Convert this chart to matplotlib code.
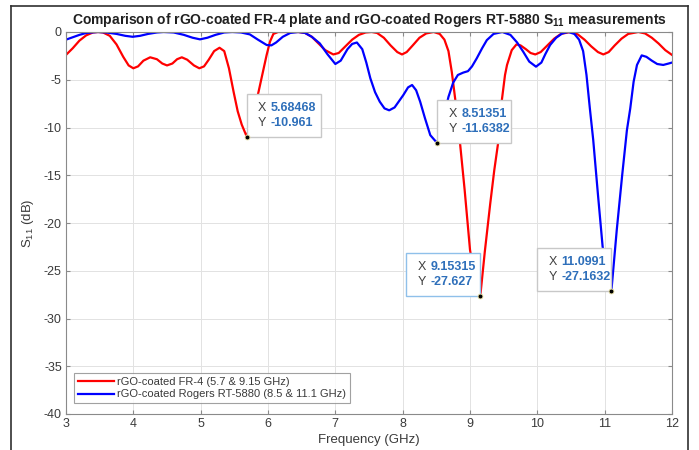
import numpy as np
import matplotlib
matplotlib.use("Agg")
import matplotlib.pyplot as plt
from matplotlib.patches import Rectangle
from matplotlib.lines import Line2D
from matplotlib.transforms import Affine2D

plt.rcParams['font.family'] = ['Liberation Sans', 'DejaVu Sans']
plt.rcParams['mathtext.fontset'] = 'custom'
plt.rcParams['mathtext.rm'] = 'Liberation Sans'
plt.rcParams['mathtext.bf'] = 'Liberation Sans:bold'
plt.rcParams['axes.unicode_minus'] = False

# rGO-coated FR-4
fr4_freq = [3.0, 3.1, 3.2, 3.3, 3.4, 3.48, 3.55, 3.65, 3.75, 3.85, 3.93, 4.0, 4.07, 4.15,
            4.25, 4.35, 4.43, 4.5, 4.58, 4.65, 4.72, 4.8, 4.9, 4.98, 5.05, 5.12, 5.2,
            5.28, 5.35, 5.42, 5.49, 5.55, 5.61, 5.68468, 5.75, 5.8, 5.86, 5.93, 5.98,
            6.03, 6.08, 6.15, 6.3, 6.45, 6.55, 6.65, 6.75, 6.85, 6.97, 7.05, 7.15, 7.25,
            7.35, 7.45, 7.54, 7.62, 7.72, 7.82, 7.92, 7.99, 8.06, 8.15, 8.25, 8.35, 8.46,
            8.55, 8.62, 8.68, 8.73, 8.78, 8.85, 8.92, 9.0, 9.07, 9.15315, 9.22, 9.3,
            9.36, 9.42, 9.47, 9.52, 9.55, 9.62, 9.69, 9.75, 9.83, 9.9, 9.97, 10.05,
            10.15, 10.25, 10.35, 10.49, 10.6, 10.7, 10.8, 10.9, 10.98, 11.06, 11.15,
            11.25, 11.35, 11.5, 11.6, 11.7, 11.8, 11.9, 12.0]
fr4_s11 = [-2.4, -1.7, -0.9, -0.35, -0.05, 0.0, -0.05, -0.4, -1.3, -2.6, -3.5, -3.8, -3.6, -3.0,
           -2.65, -2.85, -3.3, -3.5, -3.3, -2.85, -2.65, -2.9, -3.5, -3.8, -3.6, -2.9, -2.0,
           -1.65, -2.0, -3.8, -6.3, -8.3, -9.7, -10.961, -9.3, -8.0, -6.25, -4.0, -2.4,
           -1.0, -0.2, 0.0, 0.0, 0.0, -0.1, -0.5, -1.2, -1.9, -2.35, -2.2, -1.5, -0.8,
           -0.3, -0.05, 0.0, -0.1, -0.6, -1.4, -2.1, -2.35, -2.1, -1.4, -0.6, -0.15, 0.0,
           -0.2, -0.8, -2.0, -4.2, -7.0, -11.5, -16.5, -22.8, -25.8, -27.627, -23.0, -18.0,
           -14.5, -11.5, -7.3, -4.5, -3.45, -1.9, -1.3, -1.4, -1.8, -2.2, -2.35, -2.1,
           -1.4, -0.7, -0.2, 0.0, -0.25, -0.8, -1.5, -2.1, -2.35, -2.1, -1.4,
           -0.7, -0.2, 0.0, -0.15, -0.6, -1.2, -1.9, -2.4]

# rGO-coated Rogers RT-5880
rog_freq = [3.0, 3.1, 3.2, 3.3, 3.47, 3.6, 3.75, 3.88, 3.99, 4.1, 4.22, 4.35, 4.45, 4.6,
            4.75, 4.88, 4.99, 5.1, 5.22, 5.35, 5.47, 5.6, 5.73, 5.85, 5.98, 6.05, 6.12,
            6.22, 6.33, 6.45, 6.55, 6.65, 6.77, 6.88, 7.0, 7.08, 7.18, 7.25, 7.32, 7.4,
            7.46, 7.52, 7.59, 7.66, 7.73, 7.8, 7.88, 7.95, 8.01, 8.08, 8.14, 8.2, 8.26,
            8.33, 8.41, 8.51351, 8.6, 8.68, 8.75, 8.82, 8.9, 8.97, 9.03, 9.1, 9.18, 9.25,
            9.35, 9.48, 9.6, 9.7, 9.79, 9.88, 9.98, 10.06, 10.12, 10.19, 10.28, 10.37,
            10.46, 10.55, 10.62, 10.68, 10.73, 10.78, 10.83, 10.9, 10.97, 11.0991, 11.18,
            11.26, 11.33, 11.38, 11.43, 11.48, 11.55, 11.62, 11.7, 11.78, 11.87, 11.95, 12.0]
rog_s11 = [-0.8, -0.55, -0.3, -0.1, 0.0, -0.05, -0.2, -0.4, -0.5, -0.4, -0.2, -0.05, 0.0, -0.05,
           -0.3, -0.6, -0.77, -0.6, -0.3, -0.05, 0.0, -0.05, -0.25, -0.8, -1.36, -1.4, -1.1,
           -0.5, -0.1, 0.0, -0.1, -0.5, -1.2, -2.3, -3.35, -3.0, -1.8, -1.25, -1.1, -1.8,
           -3.2, -4.85, -6.3, -7.3, -8.0, -8.2, -7.9, -7.2, -6.6, -5.8, -5.55, -6.1, -7.3,
           -9.0, -10.8, -11.6382, -9.2, -6.8, -5.3, -4.5, -4.25, -4.1, -3.6, -2.76, -1.7, -0.85,
           -0.2, 0.0, -0.3, -1.1, -2.06, -3.1, -3.63, -3.2, -2.3, -1.36, -0.6, -0.15,
           0.0, -0.2, -0.8, -2.0, -4.5, -8.0, -11.3, -17.0, -22.5, -27.1632, -20.7,
           -15.0, -10.3, -8.0, -5.2, -3.45, -2.45, -2.6, -3.0, -3.35, -3.45, -3.3, -3.2]

labels = ['rGO-coated FR-4 (5.7 & 9.15 GHz)', 'rGO-coated Rogers RT-5880 (8.5 & 11.1 GHz)']

# data tips: (x, y, side the box sits on, edge colour)
tips = [(5.68468, -10.961, 'right', '#c8c8c8'),
        (8.51351, -11.6382, 'right', '#c8c8c8'),
        (9.15315, -27.627, 'left', '#8fc0ea'),
        (11.0991, -27.1632, 'left', '#c8c8c8')]

W, H = 699, 450
fig = plt.figure(figsize=(W / 100, H / 100), dpi=100)
ax = fig.add_axes([66 / W, 1 - 414 / H, 606 / W, 382 / H])

ax.plot(fr4_freq, fr4_s11, color='#ff0000', lw=1.6, label=labels[0])
ax.plot(rog_freq, rog_s11, color='#0000ff', lw=1.6, label=labels[1])

ax.set_xlim(3, 12)
ax.set_ylim(-40, 0)
ax.set_xticks(np.arange(3, 13, 1))
ax.set_yticks(np.arange(-40, 1, 5))
ax.grid(True, color='#e2e2e2', lw=0.7)
ax.set_axisbelow(True)
for s in ax.spines.values():
    s.set_color('#8a8a8a')
    s.set_linewidth(0.8)
ax.tick_params(direction='in', length=3, width=0.8, color='#8a8a8a',
               labelcolor='#3a3a3a', labelsize=9, top=True, right=True, pad=3)

ax.set_title(r'Comparison of rGO-coated FR-4 plate and rGO-coated Rogers RT-5880 $\mathbf{S_{11}}$ measurements',
             fontsize=10, fontweight='bold', color='#202020', pad=6)
ax.set_xlabel('Frequency (GHz)', fontsize=9.5, color='#3a3a3a', labelpad=3)
ax.set_ylabel(r'S$_{11}$ (dB)', fontsize=9.5, color='#3a3a3a', labelpad=6)

leg = ax.legend(loc='lower left', bbox_to_anchor=(0.013, 0.028), fontsize=8,
                frameon=True, fancybox=False, edgecolor='#8a8a8a', handlelength=3.3,
                handletextpad=0.25, borderpad=0.35, labelspacing=0.2, borderaxespad=0)
leg.get_frame().set_linewidth(0.8)
for t in leg.get_texts():
    t.set_color('#3a3a3a')

# data tips drawn in pixel offsets around each point
fig.canvas.draw()
bw, bh = 74, 43
for x, y, side, ec in tips:
    px, py = ax.transData.transform((x, y))
    x0 = px if side == 'right' else px - bw
    tr = Affine2D().translate(x0, py)
    ax.add_patch(Rectangle((0, 0), bw, bh, transform=tr, facecolor='white',
                           edgecolor=ec, lw=1.0, zorder=5, clip_on=False))
    ax.text(11, bh - 14, 'X', transform=tr, fontsize=9, color='#404040',
            va='center', ha='left', zorder=6)
    ax.text(11, bh - 29, 'Y', transform=tr, fontsize=9, color='#404040',
            va='center', ha='left', zorder=6)
    ax.text(24, bh - 14, f'{x:g}', transform=tr, fontsize=9, color='#2e6fba',
            fontweight='bold', va='center', ha='left', zorder=6)
    ax.text(24, bh - 29, f'{y:g}', transform=tr, fontsize=9, color='#2e6fba',
            fontweight='bold', va='center', ha='left', zorder=6)
    ax.plot(x, y, 'o', ms=3.5, mfc='black', mec='#e8e0a0', mew=0.6, zorder=7, clip_on=False)

# outer frame of the screenshot
for xs, ys in [([11 / W, 11 / W], [0, 1 - 6 / H]),
               ([11 / W, 688 / W], [1 - 6 / H, 1 - 6 / H]),
               ([688 / W, 688 / W], [0, 1 - 6 / H])]:
    fig.add_artist(Line2D(xs, ys, color='#303030', lw=1.2))

fig.savefig('out.png', dpi=100)
